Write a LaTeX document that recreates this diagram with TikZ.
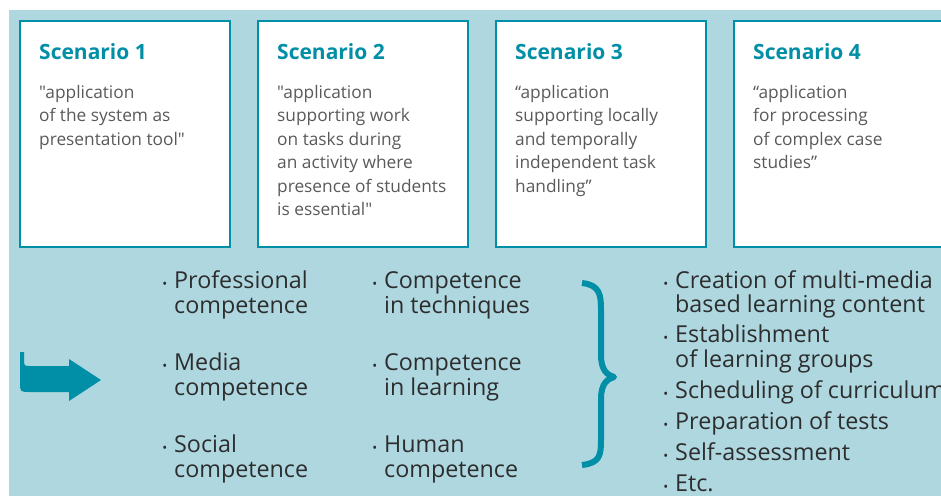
\documentclass[tikz,border=0pt]{standalone}
\usepackage{fontspec}
\setmainfont{Open Sans}[Ligatures=TeXOff]
\usetikzlibrary{positioning}
\definecolor{bgblue}{RGB}{174,215,224}
\definecolor{scenteal}{RGB}{0,143,166}
\definecolor{bodygrey}{RGB}{90,90,90}
\definecolor{listgrey}{RGB}{45,45,45}
\newcommand{\bul}{\llap{{\fontsize{13}{13}\selectfont\textbullet}\hspace{7pt}}}

\begin{document}
\begin{tikzpicture}[x=1pt,y=-1pt,node distance=28pt,
    scen box/.style={draw=scenteal,line width=1.5pt,fill=white,minimum width=210pt,
                     minimum height=226pt,inner sep=0pt,outer sep=0pt},
    scen title/.style={anchor=base west,inner sep=0pt,text=scenteal,
                       font=\fontsize{21}{24}\selectfont\bfseries},
    scen text/.style={anchor=base west,inner sep=0pt,align=left,text=bodygrey,
                      font=\fontsize{17.3}{23.5}\selectfont},
    item text/.style={anchor=base west,inner sep=0pt,align=left,text=listgrey,
                      font=\fontsize{23.3}{24.5}\selectfont}]

  \useasboundingbox (0,0) rectangle (941,496);
  \clip (0,0) rectangle (941,496);
  \fill[bgblue] (9,10) rectangle (941,496);

  % the four scenarios
  \node[scen box,anchor=north west] (s1) at (20,21) {};
  \node[scen box] (s2) [right=of s1] {};
  \node[scen box] (s3) [right=of s2] {};
  \node[scen box] (s4) [right=of s3] {};

  \node[scen title] (t1) at ([shift={(19,38)}]s1.north west) {Scenario 1};
  \node[scen title] (t2) at ([shift={(19,38)}]s2.north west) {Scenario 2};
  \node[scen title] (t3) at ([shift={(19,38)}]s3.north west) {Scenario 3};
  \node[scen title] (t4) at ([shift={(19,38)}]s4.north west) {Scenario 4};

  % base = last line
  \node[scen text] (d1) at ([shift={(19,124)}]s1.north west)
    {"application\\of the system as\\presentation tool"};
  \node[scen text] (d2) at ([shift={(19,194.5)}]s2.north west)
    {"application\\supporting work\\on tasks during\\an activity where\\presence of students\\is essential"};
  \node[scen text] (d3) at ([shift={(19,171)}]s3.north west)
    {“application\\supporting locally\\and temporally\\independent task\\handling”};
  \node[scen text] (d4) at ([shift={(19,147.5)}]s4.north west)
    {“application\\for processing\\of complex case\\studies”};

  % arrow
  \fill[scenteal] (20,352) -- (24,352) -- (24,359) .. controls (24,366) .. (31,366)
    -- (69,366) -- (69,359) -- (101,380) -- (69,401) -- (69,392) -- (30,392)
    .. controls (20,392) .. (20,382) -- cycle;

  % competences
  \node[item text] (c1) at (174,313) {\bul Professional\\competence};
  \node[item text] (c2) at (174,395) {\bul Media\\competence};
  \node[item text] (c3) at (174,477) {\bul Social\\competence};
  \node[item text] (c4) at (384,313) {\bul Competence\\in techniques};
  \node[item text] (c5) at (384,395) {\bul Competence\\in learning};
  \node[item text] (c6) at (384,477) {\bul Human\\competence};

  % brace
  \draw[scenteal,line width=6pt,line join=round] (582,283) .. controls (600,285) and (601,295) .. (601,310)
    -- (601,355) .. controls (601,370) and (607,375) .. (614,377)
    .. controls (607,379) and (601,384) .. (601,399) -- (601,440)
    .. controls (601,455) and (600,463) .. (582,465);

  % uses
  \node[item text] (u) at (675,491) {\bul Creation of multi-media\\based learning content\\[5.5pt]
    \bul Establishment\\of learning groups\\[6.5pt]\bul Scheduling of curriculum\\[6.5pt]
    \bul Preparation of tests\\[7pt]\bul Self-assessment\\[6pt]\bul Etc.};
\end{tikzpicture}
\end{document}
